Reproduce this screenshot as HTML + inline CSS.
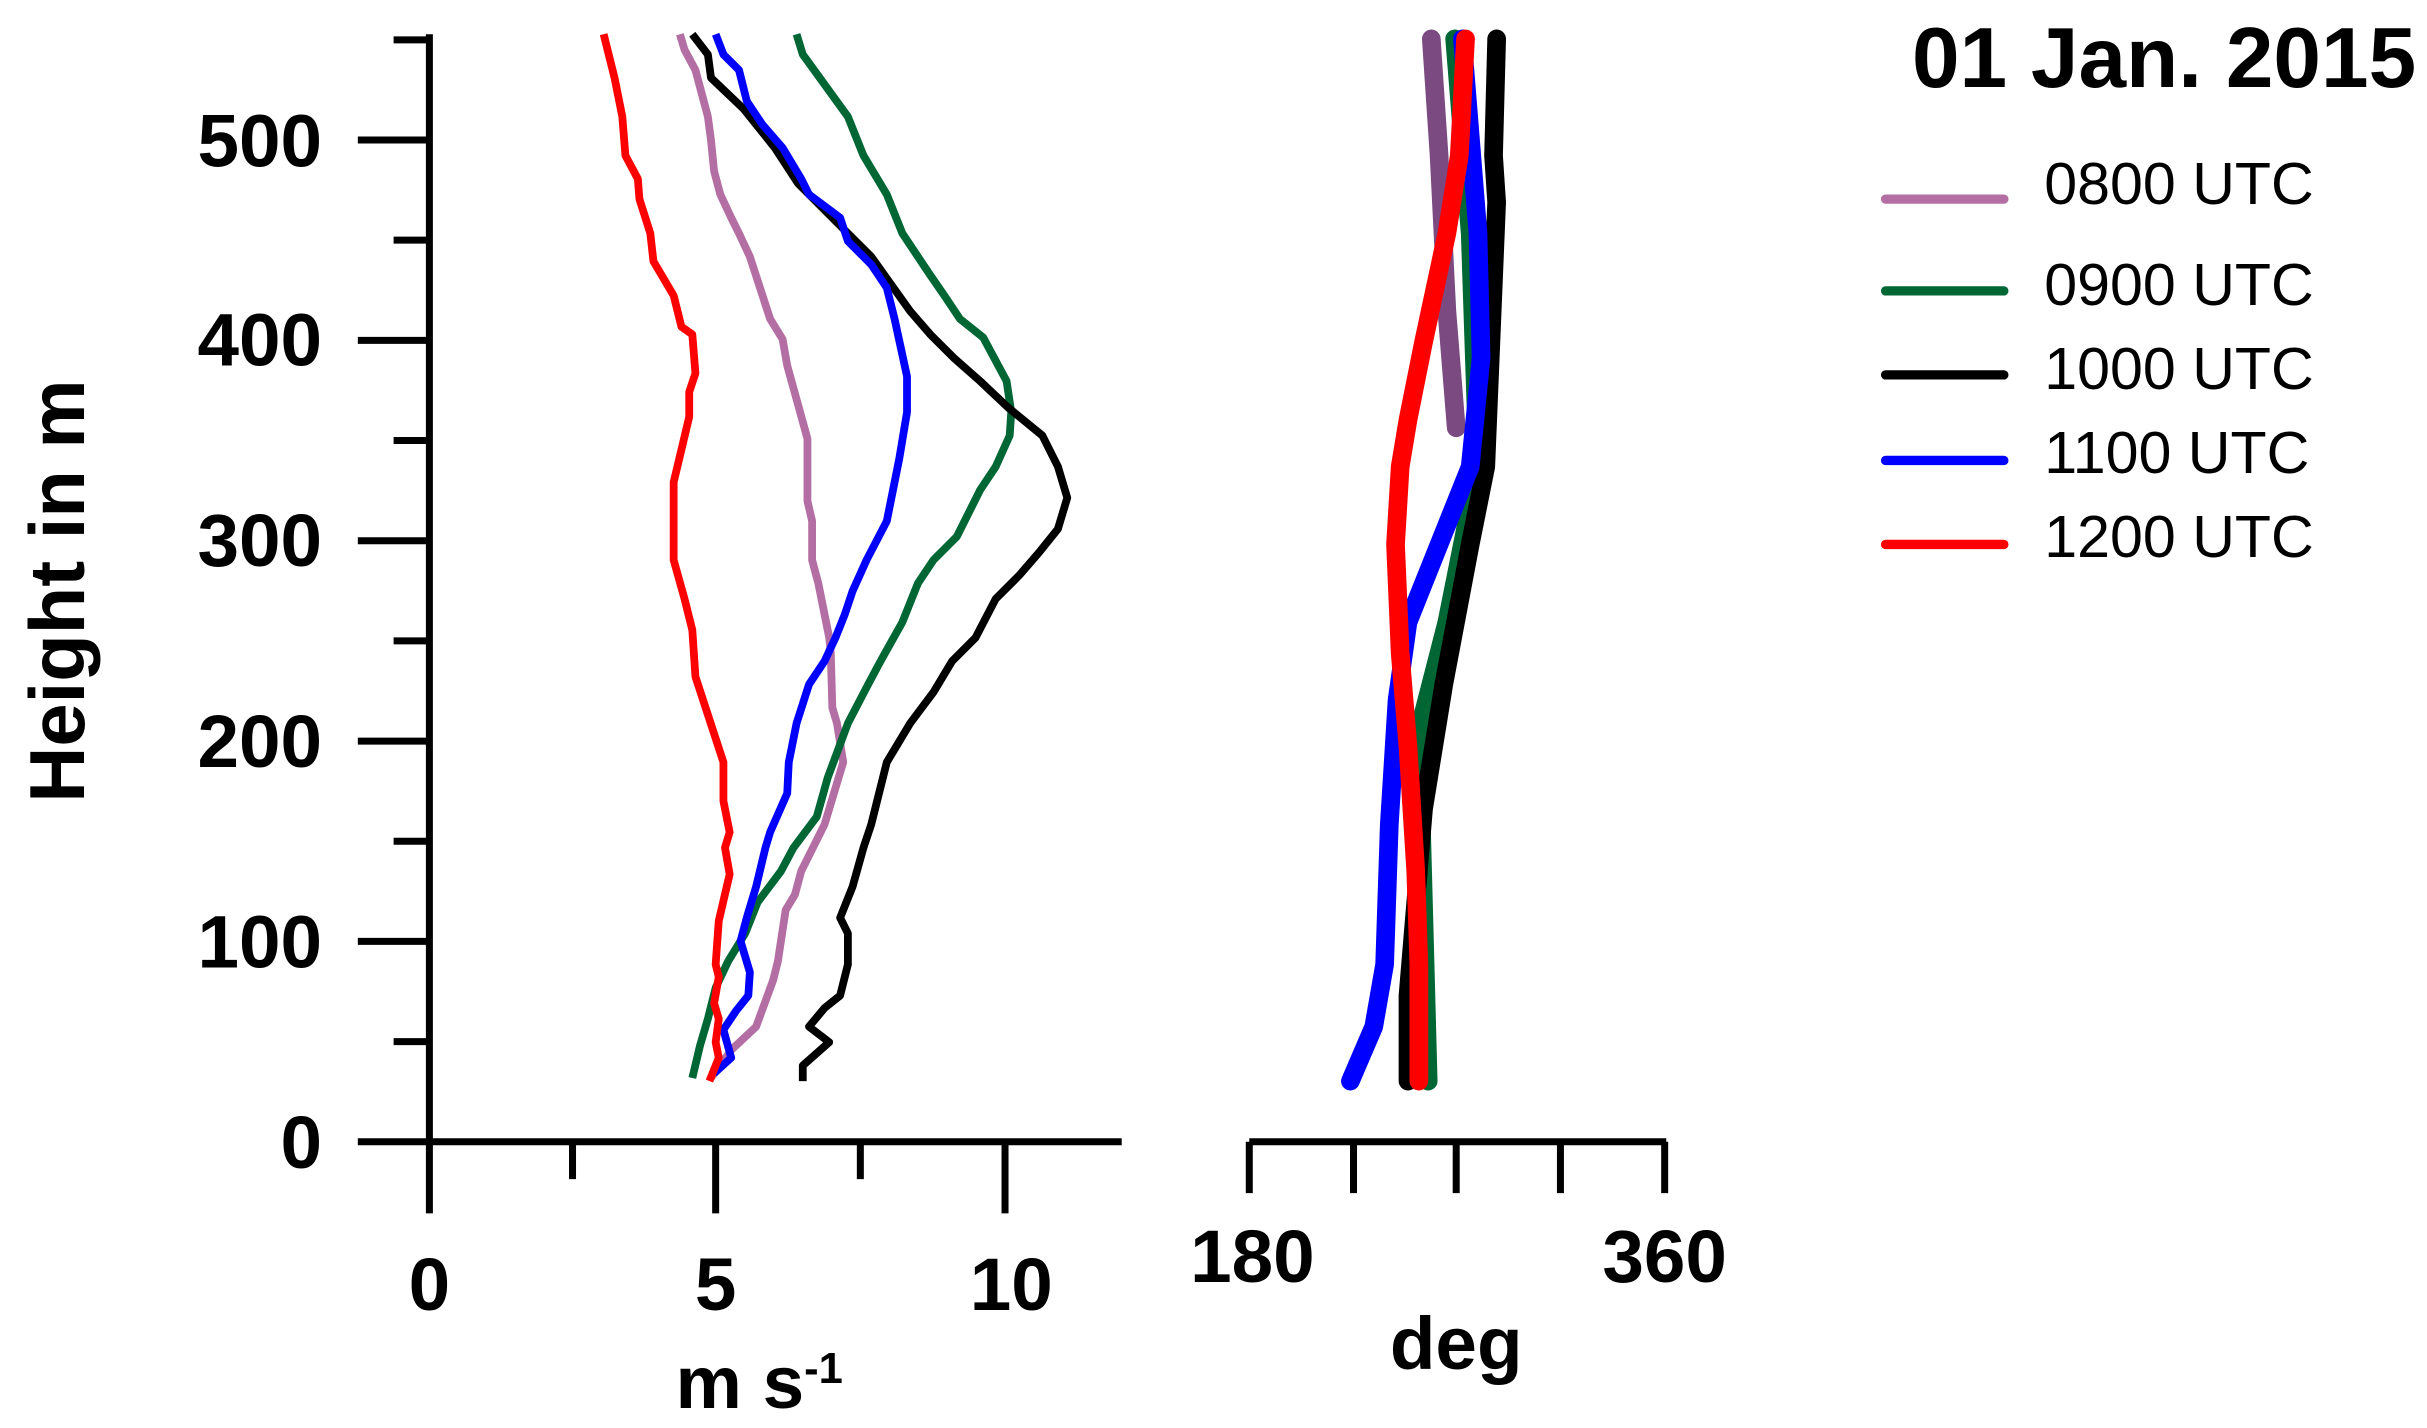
<!DOCTYPE html>
<html><head><meta charset="utf-8"><style>
html,body{margin:0;padding:0;background:#fff;}
svg{display:block;}
text{font-family:"Liberation Sans",Arial,sans-serif;fill:#000;}
</style></head><body>
<svg width="2427" height="1428" viewBox="0 0 1560 918" preserveAspectRatio="none" xmlns="http://www.w3.org/2000/svg">
<g stroke="#000" stroke-width="4.5" fill="none" stroke-linecap="butt">
<line x1="276" y1="22" x2="276" y2="780"/>
<line x1="230" y1="734" x2="721" y2="734"/>
<line x1="230" y1="605.2" x2="276" y2="605.2"/>
<line x1="230" y1="476.4" x2="276" y2="476.4"/>
<line x1="230" y1="347.6" x2="276" y2="347.6"/>
<line x1="230" y1="218.8" x2="276" y2="218.8"/>
<line x1="230" y1="90" x2="276" y2="90"/>
<line x1="253" y1="669.6" x2="276" y2="669.6"/>
<line x1="253" y1="540.8" x2="276" y2="540.8"/>
<line x1="253" y1="412" x2="276" y2="412"/>
<line x1="253" y1="283.2" x2="276" y2="283.2"/>
<line x1="253" y1="154.4" x2="276" y2="154.4"/>
<line x1="253" y1="25.6" x2="276" y2="25.6"/>
<line x1="368" y1="734" x2="368" y2="758"/>
<line x1="460" y1="734" x2="460" y2="780"/>
<line x1="553" y1="734" x2="553" y2="758"/>
<line x1="646" y1="734" x2="646" y2="780"/>
<line x1="803" y1="734" x2="1071" y2="734"/>
<line x1="803" y1="734" x2="803" y2="767"/>
<line x1="870" y1="734" x2="870" y2="767"/>
<line x1="936" y1="734" x2="936" y2="767"/>
<line x1="1003" y1="734" x2="1003" y2="767"/>
<line x1="1070" y1="734" x2="1070" y2="767"/>
</g>
<g fill="none" stroke-width="5" stroke-linejoin="round">
<polyline stroke="#b36ea3" points="437,22 440,32 447,45 455,75 457,90 459,110 463,125 470,140 475,150 482,165 495,205 503,218 506,235 519,282 519,322 522,335 522,360 526,375 530,395 533,410 534,420 535,455 538,465 542,490 530,530 515,560 511,575 505,585 500,618 497,630 486,660 470,675 457,693"/>
<polyline stroke="#006633" points="512,22 516,35 545,75 555,100 570,125 580,150 598,177 607,190 617,205 632,217 647,245 650,265 649,280 640,300 630,315 615,345 600,360 590,375 580,400 566,425 558,440 545,465 532,500 525,525 510,545 502,560 487,580 479,600 468,618 460,635 455,655 450,672 445,693"/>
<polyline stroke="#000" points="445,22 455,35 457,50 478,70 498,95 513,118 530,135 545,150 560,165 585,200 598,215 613,230 630,245 648,262 670,280 680,300 686,320 680,340 668,355 655,370 640,385 627,410 612,425 600,445 585,465 570,490 560,530 555,545 548,570 540,590 545,600 545,620 540,640 530,648 520,660 533,670 516,685 516,695"/>
<polyline stroke="#0000ff" points="460,22 465,35 475,45 480,65 490,80 503,95 515,115 520,125 540,140 545,155 560,170 570,185 575,205 583,242 583,265 578,295 570,335 557,360 548,380 543,395 537,410 530,425 520,440 512,465 507,490 506,510 495,535 492,545 486,570 480,590 476,605 482,625 481,640 473,650 465,662 470,680 459,690"/>
<polyline stroke="#ff0000" points="388,22 395,50 400,75 402,100 410,115 411,128 418,150 420,168 433,190 438,210 445,215 447,240 443,252 443,268 433,310 433,360 440,385 445,405 447,435 465,490 465,515 469,535 466,545 469,562 462,592 460,620 462,628 459,645 462,655 460,670 462,680 456,695"/>
</g>
<g fill="none" stroke-width="12" stroke-linecap="round" stroke-linejoin="round">
<polyline stroke="#7a4a80" points="920,25 925,100 930,200 936,275"/>
<polyline stroke="#006633" points="935,25 945,150 950,300 930,400 912,470 918,695"/>
<polyline stroke="#000" points="962,25 960,100 962,130 955,300 945,350 928,440 915,520 905,640 905,695"/>
<polyline stroke="#0000ff" points="940,25 950,150 952,230 945,300 925,350 905,400 898,450 893,530 890,620 883,660 868,695"/>
<polyline stroke="#ff0000" points="942,25 938,100 930,150 915,220 905,270 900,300 897,350 900,420 905,480 910,560 912,620 912,695"/>
</g>
<g font-weight="bold" font-size="48" text-anchor="end">
<text x="207" y="751">0</text>
<text x="207" y="622">100</text>
<text x="207" y="493">200</text>
<text x="207" y="364">300</text>
<text x="207" y="235">400</text>
<text x="207" y="107">500</text>
</g>
<g font-weight="bold" font-size="48" text-anchor="middle">
<text x="276" y="842">0</text>
<text x="460" y="842">5</text>
<text x="650" y="842">10</text>
<text x="805" y="824">180</text>
<text x="1070" y="824">360</text>
<text x="936" y="880">deg</text>
<text x="488" y="905">m s<tspan font-size="28" dy="-16">-1</tspan></text>
<text transform="translate(54,380) rotate(-90)" font-size="50">Height in m</text>
</g>
<text x="1391" y="56" font-weight="bold" font-size="55" text-anchor="middle">01 Jan. 2015</text>
<g stroke-width="6" stroke-linecap="round">
<line x1="1212" y1="128" x2="1288" y2="128" stroke="#b36ea3"/>
<line x1="1212" y1="187" x2="1288" y2="187" stroke="#006633"/>
<line x1="1212" y1="241" x2="1288" y2="241" stroke="#000"/>
<line x1="1212" y1="296" x2="1288" y2="296" stroke="#0000ff"/>
<line x1="1212" y1="350" x2="1288" y2="350" stroke="#ff0000"/>
</g>
<g font-size="38">
<text x="1314" y="131">0800 UTC</text>
<text x="1314" y="196">0900 UTC</text>
<text x="1314" y="250">1000 UTC</text>
<text x="1314" y="304">1100 UTC</text>
<text x="1314" y="358">1200 UTC</text>
</g>
</svg>
</body></html>
